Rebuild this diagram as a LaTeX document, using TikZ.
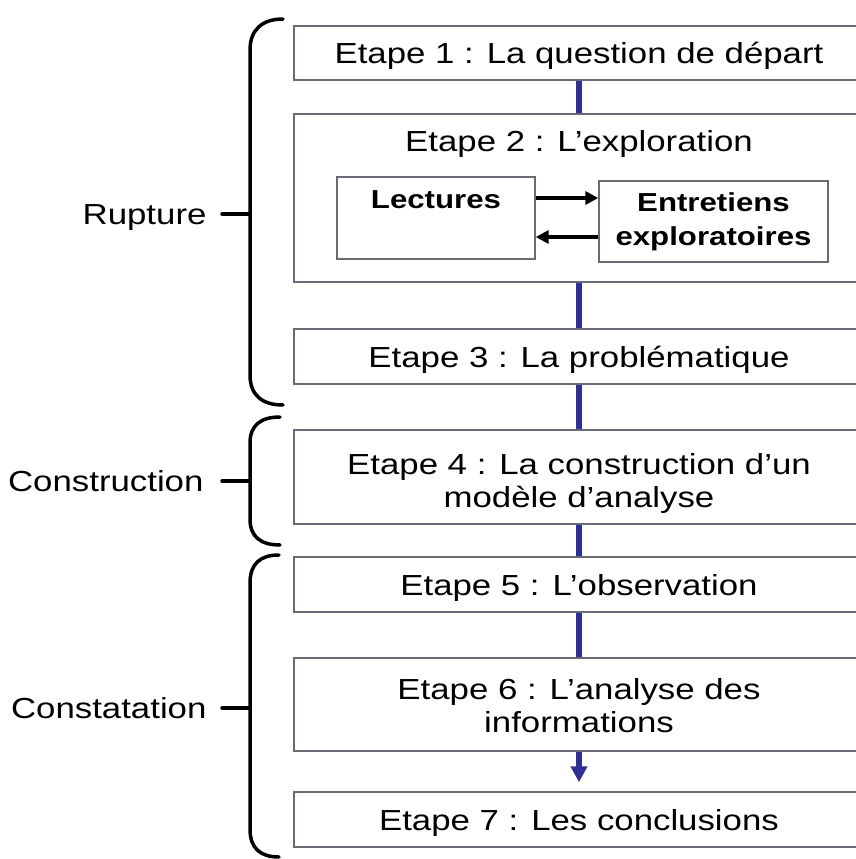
\documentclass[tikz,border=0pt]{standalone}
\usepackage{fontspec}
\setmainfont{Liberation Sans}[FakeStretch=1.2]
\usetikzlibrary{arrows.meta}
\definecolor{linkblue}{RGB}{46,49,146}
\definecolor{frame}{RGB}{105,105,120}
\begin{document}
\begin{tikzpicture}[x=1pt,y=-1pt,
  maintext/.style={font=\fontsize{29}{33}\selectfont, align=center},
  oneline/.style={maintext, text height=21pt, text depth=0pt},
  framed/.style={draw=frame, line width=1.4pt, fill=white, inner sep=0pt},
  stagebox/.style={framed, minimum width=570pt},
  boldtext/.style={font=\bfseries\fontsize{26}{34}\selectfont, align=center},
  flow/.style={draw=linkblue, line width=6pt},
  xarrow/.style={line width=3.5pt, -{Triangle[length=13pt,width=13pt]}},
  brace/.style={line width=3.5pt, line cap=round, line join=round},
  side/.style={anchor=east, oneline}]
\useasboundingbox (0,0) rectangle (856,859);
\begin{scope}
\clip (0,0) rectangle (856,859);
\node[stagebox, oneline, minimum height=54pt] (e1) at (579,53) {Etape 1 : La question de départ};
\node[stagebox, minimum height=168pt] (e2) at (579,198) {};
\node[oneline] (t2) at (579,141) {Etape 2 : L’exploration};
\node[stagebox, oneline, minimum height=55pt] (e3) at (579,356.5) {Etape 3 : La problématique};
\node[stagebox, minimum height=94pt] (e4) at (579,477) {};
\node[maintext] (t4) at (579,483.5) {Etape 4 : La construction d’un\\modèle d’analyse};
\node[stagebox, oneline, minimum height=55pt] (e5) at (579,584.5) {Etape 5 : L’observation};
\node[stagebox, minimum height=93pt] (e6) at (579,704.5) {};
\node[maintext] (t6) at (579,705.5) {Etape 6 : L’analyse des\\informations};
\node[stagebox, oneline, minimum height=55pt] (e7) at (579,819.5) {Etape 7 : Les conclusions};
\end{scope}
\node[framed, minimum width=198pt, minimum height=82pt] (lect) at (436,218) {};
\node[boldtext, text height=18.6pt, text depth=0pt] (lectt) at (436,199) {Lectures};
\node[framed, boldtext, minimum width=229pt, minimum height=81pt] (entr) at (713.5,221.5) {Entretiens\\exploratoires};
\draw[xarrow] ([yshift=20pt]lect.east) -- ([yshift=20pt]lect.east -| entr.west);
\draw[xarrow] ([yshift=-19pt]lect.east -| entr.west) -- ([yshift=-19pt]lect.east);
\draw[flow] (e1) -- (e2);
\draw[flow] (e2) -- (e3);
\draw[flow] (e3) -- (e4);
\draw[flow] (e4) -- (e5);
\draw[flow] (e5) -- (e6);
\draw[flow, shorten >=9pt, -{Triangle[length=16pt,width=16pt]}] (e6) -- (e7);
% braces
\draw[brace] (283,19) .. controls (262,19) and (250,30) .. (250,50) -- (250,375) .. controls (250,395) and (262,405) .. (283,405);
\draw[brace] (222,214) -- (250,214);
\draw[brace] (280,417) .. controls (261,417) and (250,425) .. (250,443) -- (250,519) .. controls (250,537) and (261,545) .. (280,545);
\draw[brace] (222,481) -- (250,481);
\draw[brace] (279,555) .. controls (260,555) and (250,564) .. (250,583) -- (250,829) .. controls (250,848) and (260,857) .. (279,857);
\draw[brace] (222,708) -- (250,708);
\node[side] (rup) at (210,214) {Rupture};
\node[side] (con) at (207,481) {Construction};
\node[side] (cst) at (210,708) {Constatation};
\end{tikzpicture}
\end{document}
